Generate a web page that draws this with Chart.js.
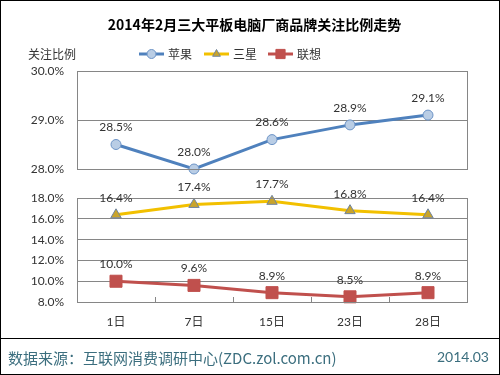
<!DOCTYPE html>
<html>
<head>
<meta charset="utf-8">
<script src="https://cdn.jsdelivr.net/npm/chart.js@4.4.1/dist/chart.umd.min.js"></script>
<style>
  body { margin: 0; background: #fff; }
  #wrap { position: relative; width: 500px; height: 375px; box-sizing: border-box; border: 1px solid #000; overflow: hidden; font-family: Lato, "Noto Sans CJK SC", sans-serif; }
  #c1 { position: absolute; left: -1px; top: -1px; }
  #c2 { position: absolute; left: -1px; top: 177px; }
  #title { position: absolute; left: 0; width: 507px; top: 13px; text-align: center; font-weight: bold; font-size: 14px; color: #000; font-family: "Noto Sans CJK SC", sans-serif; }
  #ylab { position: absolute; left: 27px; top: 44px; font-size: 12px; color: #333; font-family: "Noto Sans CJK SC", sans-serif; }
  #sep { position: absolute; left: 0; right: 0; top: 337px; border-top: 1px solid #000; }
  #src { position: absolute; left: 7px; top: 346px; font-size: 15px; color: #3b6e7e; font-family: "Noto Sans CJK SC", sans-serif; }
  #date { position: absolute; right: 10px; top: 347px; font-size: 14px; color: #3b6e7e; }
</style>
</head>
<body>
<div id="wrap">
  <canvas id="c1" width="500" height="190"></canvas>
  <canvas id="c2" width="500" height="156"></canvas>
  <div id="title">2014年2月三大平板电脑厂商品牌关注比例走势</div>
  <div id="ylab">关注比例</div>
  <div id="sep"></div>
  <div id="src">数据来源：互联网消费调研中心(ZDC.zol.com.cn)</div>
  <div id="date">2014.03</div>
</div>
<script>
const days = ["1日", "7日", "15日", "23日", "28日"];
const apple = [28.5, 28.0, 28.6, 28.9, 29.1];
const samsung = [16.4, 17.4, 17.7, 16.8, 16.4];
const lenovo = [10.0, 9.6, 8.9, 8.5, 8.9];

const topTicks = [28, 29, 30];
const bottomTicks = [8, 10, 12, 14, 16, 18];

const gridColor = "#868686";
const labelFont = { family: "Lato, 'Noto Sans CJK SC', sans-serif", size: 12 };

// frame around plot area, inner x ticks, value labels
const panelPlugin = {
  id: "panel",
  afterDraw(chart) {
    const ctx = chart.ctx;
    const a = chart.chartArea;
    ctx.save();
    ctx.strokeStyle = gridColor;
    ctx.lineWidth = 1;
    ctx.strokeRect(Math.round(a.left) + 0.5, Math.round(a.top) + 0.5, Math.round(a.right - a.left), Math.round(a.bottom - a.top));
    if (chart.options.plugins.panel.innerTicks) {
      const xs = chart.scales.x;
      const step = xs.getPixelForValue(1) - xs.getPixelForValue(0);
      for (let i = 1; i < days.length; i++) {
        const x = Math.round(xs.getPixelForValue(i) - step / 2) + 0.5;
        ctx.beginPath();
        ctx.moveTo(x, a.bottom);
        ctx.lineTo(x, a.bottom - 5);
        ctx.stroke();
      }
    }
    ctx.font = "12px Lato, 'Noto Sans CJK SC', sans-serif";
    ctx.fillStyle = "#333";
    ctx.textAlign = "center";
    ctx.textBaseline = "middle";
    chart.data.datasets.forEach((ds, di) => {
      chart.getDatasetMeta(di).data.forEach((pt, i) => {
        ctx.fillText(ds.data[i].toFixed(1) + "%", pt.x, pt.y - 17);
      });
    });
    ctx.restore();
  }
};

const legendPlugin = {
  id: "legendDraw",
  afterDraw(chart) {
    const ctx = chart.ctx;
    const y = 54;
    const items = [
      { x: 139, label: "苹果", color: "#4F81BD", style: "circle", fill: "#B9CDE5", border: "#6C93C6" },
      { x: 204, label: "三星", color: "#F2C000", style: "triangle", fill: "#C9A42B", border: "#6F84A0" },
      { x: 268, label: "联想", color: "#C0504D", style: "rect", fill: "#C0504D", border: "#C0504D" }
    ];
    ctx.save();
    items.forEach(it => {
      ctx.strokeStyle = it.color;
      ctx.lineWidth = 3;
      ctx.beginPath();
      ctx.moveTo(it.x, y);
      ctx.lineTo(it.x + 25, y);
      ctx.stroke();
      ctx.fillStyle = it.fill;
      ctx.strokeStyle = it.border;
      ctx.lineWidth = 1;
      Chart.helpers.drawPoint(ctx, { pointStyle: it.style, radius: it.style === "rect" ? 6.5 : 4.5, borderWidth: 1 }, it.x + 12.5, y);
      ctx.fillStyle = "#333";
      ctx.font = "12px 'Noto Sans CJK SC', sans-serif";
      ctx.textBaseline = "middle";
      ctx.fillText(it.label, it.x + 29, y);
    });
    ctx.restore();
  }
};

function yAxis(min, max, ticks) {
  return {
    min: min,
    max: max,
    afterFit: s => { s.width = 77; },
    afterBuildTicks: s => { s.ticks = ticks.map(v => ({ value: v })); },
    grid: { color: gridColor, drawTicks: false },
    border: { color: gridColor },
    ticks: {
      padding: 13,
      color: "#333",
      font: labelFont,
      callback: v => v.toFixed(1) + "%"
    }
  };
}

new Chart(document.getElementById("c1"), {
  type: "line",
  data: {
    labels: days,
    datasets: [{
      label: "苹果",
      data: apple,
      borderColor: "#4F81BD",
      borderWidth: 3,
      pointBackgroundColor: "#B9CDE5",
      pointBorderColor: "#6C93C6",
      pointBorderWidth: 1,
      pointRadius: 5,
      tension: 0,
      clip: false
    }]
  },
  options: {
    responsive: false,
    animation: false,
    layout: { padding: { top: 71, right: 33, bottom: 21, left: 0 } },
    plugins: { legend: { display: false }, tooltip: { enabled: false }, panel: { innerTicks: false } },
    scales: {
      x: { display: false, offset: true },
      y: yAxis(28, 30, topTicks)
    }
  },
  plugins: [panelPlugin, legendPlugin]
});

new Chart(document.getElementById("c2"), {
  type: "line",
  data: {
    labels: days,
    datasets: [{
      label: "三星",
      data: samsung,
      borderColor: "#F2C000",
      borderWidth: 3,
      pointStyle: "triangle",
      pointBackgroundColor: "#C9A42B",
      pointBorderColor: "#6F84A0",
      pointBorderWidth: 1,
      pointRadius: 6,
      tension: 0,
      clip: false
    }, {
      label: "联想",
      data: lenovo,
      borderColor: "#C0504D",
      borderWidth: 3,
      pointStyle: "rect",
      pointBackgroundColor: "#C0504D",
      pointBorderColor: "#C0504D",
      pointBorderWidth: 1,
      pointRadius: 8.5,
      tension: 0,
      clip: false
    }]
  },
  options: {
    responsive: false,
    animation: false,
    layout: { padding: { top: 20, right: 33, bottom: 0, left: 0 } },
    plugins: { legend: { display: false }, tooltip: { enabled: false }, panel: { innerTicks: true } },
    scales: {
      x: {
        offset: true,
        afterFit: s => { s.height = 32; },
        grid: { display: false, drawTicks: false },
        border: { display: false },
        ticks: { padding: 13, color: "#333", font: labelFont, maxRotation: 0 }
      },
      y: yAxis(8, 18, bottomTicks)
    }
  },
  plugins: [panelPlugin]
});
</script>
</body>
</html>
